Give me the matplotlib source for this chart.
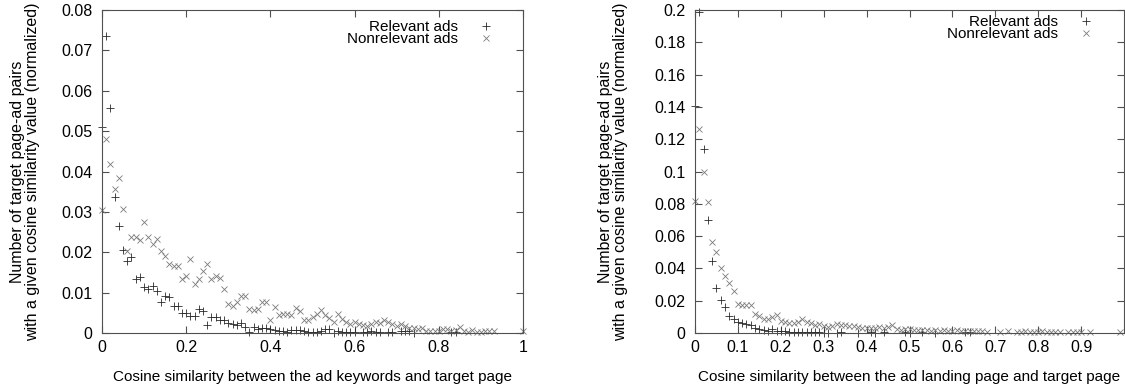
import numpy as np
import matplotlib
matplotlib.use("Agg")
import matplotlib.pyplot as plt
from matplotlib.ticker import FuncFormatter

nan = np.nan

# Cosine-similarity bins (0.00 .. 1.00, step 0.01)
cos_bins = np.round(np.arange(101) * 0.01, 2)

# ---- Left chart: ad keywords vs target page ----
kw_relevant = [
    0.0509, 0.0736, 0.0557, 0.0338, 0.0266, 0.0206, 0.0179, 0.0188, 0.0134, 0.0139,
    0.0114, 0.0109, 0.0117, 0.0104, 0.0077, 0.0091, 0.0089, 0.0068, 0.0066, 0.0049,
    0.0049, 0.0041, 0.0041, 0.0059, 0.0054, 0.0021, 0.0040, 0.0040, 0.0031, 0.0031,
    0.0026, 0.0023, 0.0020, 0.0026, 0.0015, 0.0003, 0.0014, 0.0010, 0.0012, 0.0012,
    0.0011, 0.0008, 0.0006, 0.0006, 0.0002, 0.0008, 0.0008, 0.0008, 0.0006, 0.0002,
    0.0002, 0.0003, 0.0006, 0.0011, 0.0011, 0.0001, 0.0006, 0.0002, 0.0002, 0.0002,
    0.0002, nan, 0.0003, 0.0002, 0.0004, 0.0003, 0.0003, nan, 0.0003, 0.0003,
    nan, 0.0005, 0.0005, 0.0005, 0.0001, nan, nan, nan, nan, nan,
    nan, nan, nan, 0.0003, 0.0003, nan, nan, nan, nan, nan,
    nan, nan, nan, nan, nan, nan, nan, nan, nan, nan,
    nan,
]
kw_nonrelevant = [
    0.0304, 0.0480, 0.0419, 0.0357, 0.0383, 0.0307, 0.0202, 0.0239, 0.0239, 0.0231,
    0.0276, 0.0238, 0.0221, 0.0233, 0.0202, 0.0190, 0.0171, 0.0165, 0.0165, 0.0134,
    0.0140, 0.0183, 0.0122, 0.0134, 0.0153, 0.0171, 0.0134, 0.0142, 0.0136, 0.0109,
    0.0073, 0.0068, 0.0078, 0.0092, 0.0092, 0.0059, 0.0056, 0.0059, 0.0077, 0.0078,
    0.0031, 0.0064, 0.0045, 0.0048, 0.0047, 0.0045, 0.0062, 0.0054, 0.0031, 0.0033,
    0.0039, 0.0047, 0.0057, 0.0045, 0.0037, 0.0027, 0.0047, 0.0035, 0.0027, 0.0023,
    0.0027, 0.0023, 0.0020, 0.0018, 0.0022, 0.0028, 0.0025, 0.0033, 0.0028, 0.0022,
    0.0018, 0.0022, 0.0018, 0.0012, 0.0012, 0.0010, 0.0013, 0.0006, 0.0006, 0.0006,
    0.0006, 0.0010, 0.0010, 0.0006, 0.0008, 0.0014, 0.0006, 0.0003, 0.0008, 0.0002,
    0.0002, 0.0006, 0.0006, 0.0006, nan, nan, nan, nan, nan, nan,
    0.0004,
]

# ---- Right chart: ad landing page vs target page ----
lp_relevant = [
    0.1406, 0.1990, 0.1137, 0.0700, 0.0446, 0.0280, 0.0204, 0.0163, 0.0105, 0.0087,
    0.0070, 0.0060, 0.0054, 0.0050, 0.0033, 0.0023, 0.0019, 0.0015, 0.0023, 0.0015,
    0.0015, 0.0010, 0.0008, 0.0008, 0.0006, 0.0006, 0.0006, 0.0006, 0.0006, 0.0006,
    0.0003, 0.0003, nan, 0.0003, 0.0004, nan, nan, nan, 0.0003, nan,
    nan, 0.0005, 0.0003, nan, 0.0005, nan, nan, nan, nan, 0.0004,
    0.0003, nan, nan, 0.0004, nan, nan, 0.0003, nan, nan, nan,
    nan, nan, nan, 0.0004, 0.0004, nan, nan, nan, nan, nan,
    nan, nan, nan, nan, nan, nan, nan, nan, nan, nan,
    nan, nan, nan, nan, nan, nan, nan, nan, nan, nan,
    nan, nan, nan, nan, nan, nan, nan, nan, nan, nan,
    nan,
]
lp_nonrelevant = [
    0.0817, 0.1261, 0.0995, 0.0810, 0.0563, 0.0500, 0.0400, 0.0355, 0.0310, 0.0262,
    0.0180, 0.0175, 0.0173, 0.0173, 0.0120, 0.0107, 0.0087, 0.0087, 0.0099, 0.0111,
    0.0072, 0.0070, 0.0065, 0.0060, 0.0070, 0.0085, 0.0070, 0.0060, 0.0050, 0.0055,
    0.0042, 0.0037, 0.0045, 0.0055, 0.0050, 0.0048, 0.0043, 0.0043, 0.0037, 0.0030,
    0.0030, 0.0030, 0.0032, 0.0035, 0.0030, 0.0040, 0.0048, 0.0023, 0.0019, 0.0023,
    0.0023, 0.0019, 0.0019, 0.0017, 0.0021, 0.0015, 0.0018, 0.0013, 0.0017, 0.0015,
    0.0012, 0.0016, 0.0014, 0.0010, 0.0012, 0.0010, 0.0013, 0.0010, 0.0008, nan,
    nan, 0.0009, nan, 0.0012, nan, 0.0009, 0.0008, 0.0010, 0.0007, 0.0009,
    0.0008, 0.0011, 0.0009, 0.0007, 0.0008, 0.0009, nan, 0.0008, 0.0009, 0.0007,
    0.0008, nan, 0.0008, nan, nan, nan, nan, nan, nan, 0.0006,
    nan,
]

series_labels = ["Relevant ads", "Nonrelevant ads"]
ylabel_text = "Number of target page-ad pairs\nwith a given cosine similarity value (normalized)"
left_xlabel = "Cosine similarity between the ad keywords and target page"
right_xlabel = "Cosine similarity between the ad landing page and target page"
left_xticks = [0, 0.2, 0.4, 0.6, 0.8, 1.0]
left_yticks = [0, 0.01, 0.02, 0.03, 0.04, 0.05, 0.06, 0.07, 0.08]
right_xticks = [0, 0.1, 0.2, 0.3, 0.4, 0.5, 0.6, 0.7, 0.8, 0.9]
right_yticks = [0, 0.02, 0.04, 0.06, 0.08, 0.1, 0.12, 0.14, 0.16, 0.18, 0.2]

plt.rcParams['font.family'] = ['Liberation Sans', 'DejaVu Sans']
plt.rcParams['font.size'] = 11

W, H = 1125, 386
fig = plt.figure(figsize=(W / 100, H / 100), dpi=100)

border = '#505050'
rel_color = '#2a2a2a'
non_color = '#7a7a7a'

def gfmt(v, pos):
    return ('%g' % v)

def style(ax, xticks, yticks, ymax):
    ax.set_xlim(0, 1)
    ax.set_ylim(0, ymax)
    ax.set_xticks(xticks)
    ax.set_yticks(yticks)
    ax.xaxis.set_major_formatter(FuncFormatter(gfmt))
    ax.yaxis.set_major_formatter(FuncFormatter(gfmt))
    ax.tick_params(direction='in', length=5, width=0.8, color=border,
                   top=True, right=True, labelsize=11.5, labelcolor='black')
    ax.tick_params(axis='y', pad=7)
    ax.tick_params(axis='x', pad=5)
    for s in ax.spines.values():
        s.set_color(border)
        s.set_linewidth(0.8)

def draw(ax, rel, non, anchor):
    ax.plot(cos_bins, rel, linestyle='none', marker='+', ms=6, mew=0.6,
            color=rel_color, label=series_labels[0], clip_on=False)
    ax.plot(cos_bins, non, linestyle='none', marker='x', ms=4.5, mew=0.6,
            color=non_color, label=series_labels[1], clip_on=False)
    leg = ax.legend(loc='upper right', markerfirst=False, frameon=False,
                    numpoints=1, handlelength=1.6, handletextpad=1.0,
                    labelspacing=-0.12, borderaxespad=0.0, fontsize=11,
                    bbox_to_anchor=anchor)
    return leg

axL = fig.add_axes([102 / W, (H - 333) / H, 421 / W, 323 / H])
draw(axL, kw_relevant, kw_nonrelevant, (0.955, 0.988))
style(axL, left_xticks, left_yticks, 0.08)
axL.set_xlabel(left_xlabel, fontsize=11)
axL.set_ylabel(ylabel_text, fontsize=11.5, linespacing=1.0)
axL.xaxis.set_label_coords(0.5, -0.115)
axL.yaxis.set_label_coords(-0.147, 0.5)

axR = fig.add_axes([695 / W, (H - 333) / H, 429 / W, 323 / H])
draw(axR, lp_relevant, lp_nonrelevant, (0.953, 1.003))
style(axR, right_xticks, right_yticks, 0.2)
axR.set_xlabel(right_xlabel, fontsize=11)
axR.set_ylabel(ylabel_text, fontsize=11.5, linespacing=1.0)
axR.xaxis.set_label_coords(0.5, -0.115)
axR.yaxis.set_label_coords(-0.156, 0.5)

fig.savefig('out.png', dpi=100)
